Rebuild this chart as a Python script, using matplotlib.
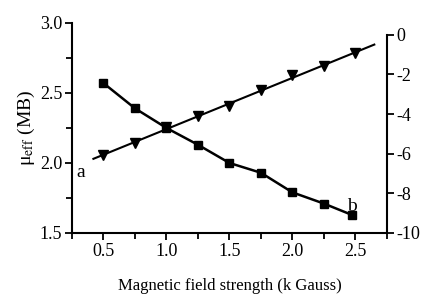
import matplotlib
matplotlib.use("Agg")
import matplotlib.pyplot as plt
import numpy as np
from matplotlib.ticker import MultipleLocator

plt.rcParams['font.family'] = ['Liberation Serif', 'DejaVu Serif']
plt.rcParams['mathtext.fontset'] = 'stix'
plt.rcParams['axes.unicode_minus'] = False

# field strength (k Gauss)
field_b = [0.5, 0.75, 1.0, 1.25, 1.5, 1.75, 2.0, 2.25, 2.47]
mu_eff = [2.57, 2.39, 2.25, 2.13, 2.00, 1.93, 1.79, 1.71, 1.63]

field_a = [0.5, 0.75, 1.0, 1.25, 1.5, 1.75, 2.0, 2.25, 2.5]
curve_a = [-6.06, -5.45, -4.66, -4.12, -3.59, -2.78, -2.02, -1.57, -0.93]
fit_range = [0.42, 2.65]

fig = plt.figure(figsize=(4.21, 2.94), dpi=100)
ax = fig.add_axes([0.171, 0.2075, 0.748, 0.7145])
ax2 = fig.add_axes([0.171, 0.2075, 0.748, 0.674])

# curve b, left axis
ax.plot(field_b, mu_eff, color='black', lw=1.8, marker='s', ms=5.5)
ax.set_xlim(0.25, 2.75)
ax.set_ylim(1.5, 3.0)
ax.xaxis.set_major_locator(MultipleLocator(0.5))
ax.xaxis.set_minor_locator(MultipleLocator(0.25))
ax.yaxis.set_major_locator(MultipleLocator(0.5))
ax.yaxis.set_minor_locator(MultipleLocator(0.25))
ax.spines['top'].set_visible(False)
ax.spines['right'].set_visible(False)
for s in ['left', 'bottom']:
    ax.spines[s].set_linewidth(1.5)
ax.tick_params(which='both', direction='out', width=1.3, labelsize=13)
ax.tick_params(which='major', length=5, pad=2)
ax.tick_params(which='minor', length=4)
ax.set_ylabel('μ$_{\\rm eff}$ (MB)', fontsize=14, labelpad=2)
ax.set_xlabel('Magnetic field strength (k Gauss)', fontsize=12, labelpad=13)
ax.text(0.32, 1.93, 'a', fontsize=14, ha='center', va='center')
ax.text(2.47, 1.69, 'b', fontsize=14, ha='center', va='center')

# curve a, right axis
coef = np.polyfit(field_a, curve_a, 1)
ax2.plot(fit_range, np.polyval(coef, fit_range), color='black', lw=1.5)
ax2.plot(field_a, curve_a, ls='none', color='black', marker='v', ms=6.5)
ax2.set_xlim(0.25, 2.75)
ax2.set_ylim(-10, 0)
ax2.patch.set_visible(False)
for s in ['left', 'top', 'bottom']:
    ax2.spines[s].set_visible(False)
ax2.spines['right'].set_linewidth(1.5)
ax2.xaxis.set_visible(False)
ax2.yaxis.tick_right()
ax2.yaxis.set_major_locator(MultipleLocator(2))
ax2.tick_params(axis='y', direction='out', width=1.3, length=5, pad=2, labelsize=13)

fig.savefig('out.png', dpi=100)
